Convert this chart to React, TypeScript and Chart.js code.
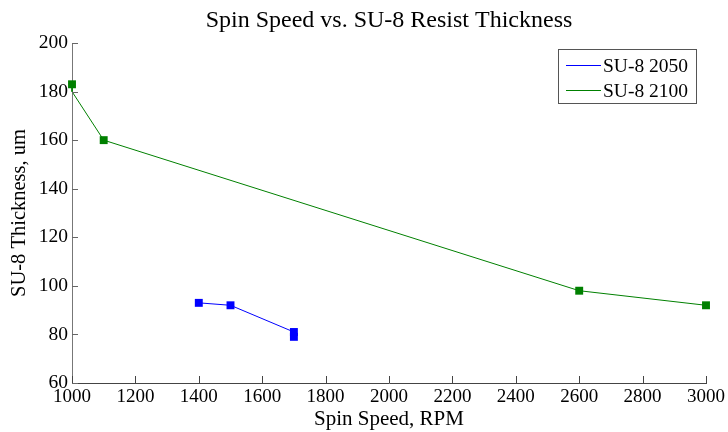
import React, { useEffect, useRef } from "react";
import { Chart, registerables } from "chart.js";

Chart.register(...registerables);

const chartTitle = "Spin Speed vs. SU-8 Resist Thickness";
const xTitle = "Spin Speed, RPM";
const yTitle = "SU-8 Thickness, um";

const seriesNames = ["SU-8 2050", "SU-8 2100"];
const seriesColors = ["#0000ff", "#008000"];

const speeds2050 = [1400, 1500, 1700, 1700];
const thick2050 = [93, 92, 81, 79];
const marked2050 = [true, true, true, true];

const speeds2100 = [1000, 1000, 1100, 2600, 3000];
const thick2100 = [183, 180, 160, 98, 92];
const marked2100 = [true, false, true, true, true];

const xMin = 1000, xMax = 3000, xStep = 200;
const yMin = 60, yMax = 200, yStep = 20;

const FONT = "'Liberation Serif', 'Times New Roman', serif";

const zip = (xs: number[], ys: number[]) => xs.map((x, i) => ({ x, y: ys[i] }));

const decorPlugin = {
  id: "decor",
  afterDatasetsDraw(chart: any) {
    const { ctx, chartArea, scales } = chart;
    const xs = scales.x, ys = scales.y;
    ctx.save();
    ctx.lineWidth = 1;
    ctx.strokeStyle = "#444";
    xs.ticks.forEach((t: any) => {
      const px = Math.round(xs.getPixelForValue(t.value)) + 0.5;
      ctx.beginPath();
      ctx.moveTo(px, chartArea.bottom);
      ctx.lineTo(px, chartArea.bottom - 7);
      ctx.stroke();
    });
    ctx.strokeStyle = "#666";
    ys.ticks.forEach((t: any) => {
      const py = Math.round(ys.getPixelForValue(t.value)) + 0.5;
      ctx.beginPath();
      ctx.moveTo(chartArea.left, py);
      ctx.lineTo(chartArea.left + 6, py);
      ctx.stroke();
    });
    ctx.fillStyle = "#000";
    ctx.font = `24px ${FONT}`;
    ctx.textAlign = "center";
    ctx.textBaseline = "alphabetic";
    ctx.fillText(chartTitle, (chartArea.left + chartArea.right) / 2, 27);
    const bx = 558.5, by = 49.5, bw = 138, bh = 54;
    ctx.fillStyle = "#fff";
    ctx.fillRect(bx, by, bw, bh);
    ctx.strokeStyle = "#555";
    ctx.strokeRect(bx, by, bw, bh);
    ctx.font = `19.5px ${FONT}`;
    ctx.textAlign = "left";
    ctx.textBaseline = "middle";
    chart.data.datasets.forEach((ds: any, i: number) => {
      const yy = 65.5 + i * 25;
      ctx.strokeStyle = ds.borderColor;
      ctx.beginPath();
      ctx.moveTo(566, yy);
      ctx.lineTo(601, yy);
      ctx.stroke();
      ctx.fillStyle = "#000";
      ctx.fillText(ds.label, 603, yy + 1);
    });
    ctx.restore();
  },
};

export default function App() {
  const ref = useRef<HTMLCanvasElement | null>(null);
  useEffect(() => {
    if (!ref.current) return;
    const mk = (i: number, xs: number[], ys: number[], marked: boolean[]) => ({
      label: seriesNames[i],
      data: zip(xs, ys),
      showLine: true,
      borderColor: seriesColors[i],
      backgroundColor: seriesColors[i],
      borderWidth: 1,
      pointStyle: "rect",
      pointRadius: marked.map((m) => (m ? 5.6 : 0)),
      pointBorderWidth: 0,
      pointBackgroundColor: seriesColors[i],
      clip: false,
      tension: 0,
    });
    const chart = new Chart(ref.current, {
      type: "scatter",
      data: {
        datasets: [mk(0, speeds2050, thick2050, marked2050), mk(1, speeds2100, thick2100, marked2100)],
      },
      plugins: [decorPlugin],
      options: {
        responsive: false,
        animation: false,
        layout: { padding: { top: 43, right: 19, left: 0, bottom: 0 } },
        plugins: { legend: { display: false }, tooltip: { enabled: false }, title: { display: false } },
        scales: {
          x: {
            type: "linear",
            min: xMin,
            max: xMax,
            afterFit: (s: any) => { s.height = 49; },
            ticks: {
              stepSize: xStep,
              color: "#000",
              padding: 3,
              maxRotation: 0,
              autoSkip: false,
              font: { family: FONT, size: 19 },
              callback: (v: any) => String(v),
            },
            grid: { display: false, drawTicks: false },
            border: { display: true, color: "#444", width: 1 },
            title: {
              display: true,
              text: xTitle,
              color: "#000",
              font: { family: FONT, size: 21 },
              padding: { top: 0, bottom: 0.4 },
            },
          },
          y: {
            type: "linear",
            min: yMin,
            max: yMax,
            afterFit: (s: any) => { s.width = 72; },
            ticks: {
              stepSize: yStep,
              color: "#000",
              padding: 4,
              autoSkip: false,
              font: { family: FONT, size: 19.5 },
              callback: (v: any) => String(v),
            },
            grid: { display: false, drawTicks: false },
            border: { display: true, color: "#777", width: 1 },
            title: {
              display: true,
              text: yTitle,
              color: "#000",
              font: { family: FONT, size: 20.5 },
              padding: { top: 7.7, bottom: 0 },
            },
          },
        },
      },
    } as any);
    return () => chart.destroy();
  }, []);
  return (
    <div style={{ position: "absolute", left: 0, top: 0, width: 728, height: 432, background: "#fff" }}>
      <canvas ref={ref} width={728} height={432} style={{ width: 728, height: 432, display: "block" }} />
    </div>
  );
}
